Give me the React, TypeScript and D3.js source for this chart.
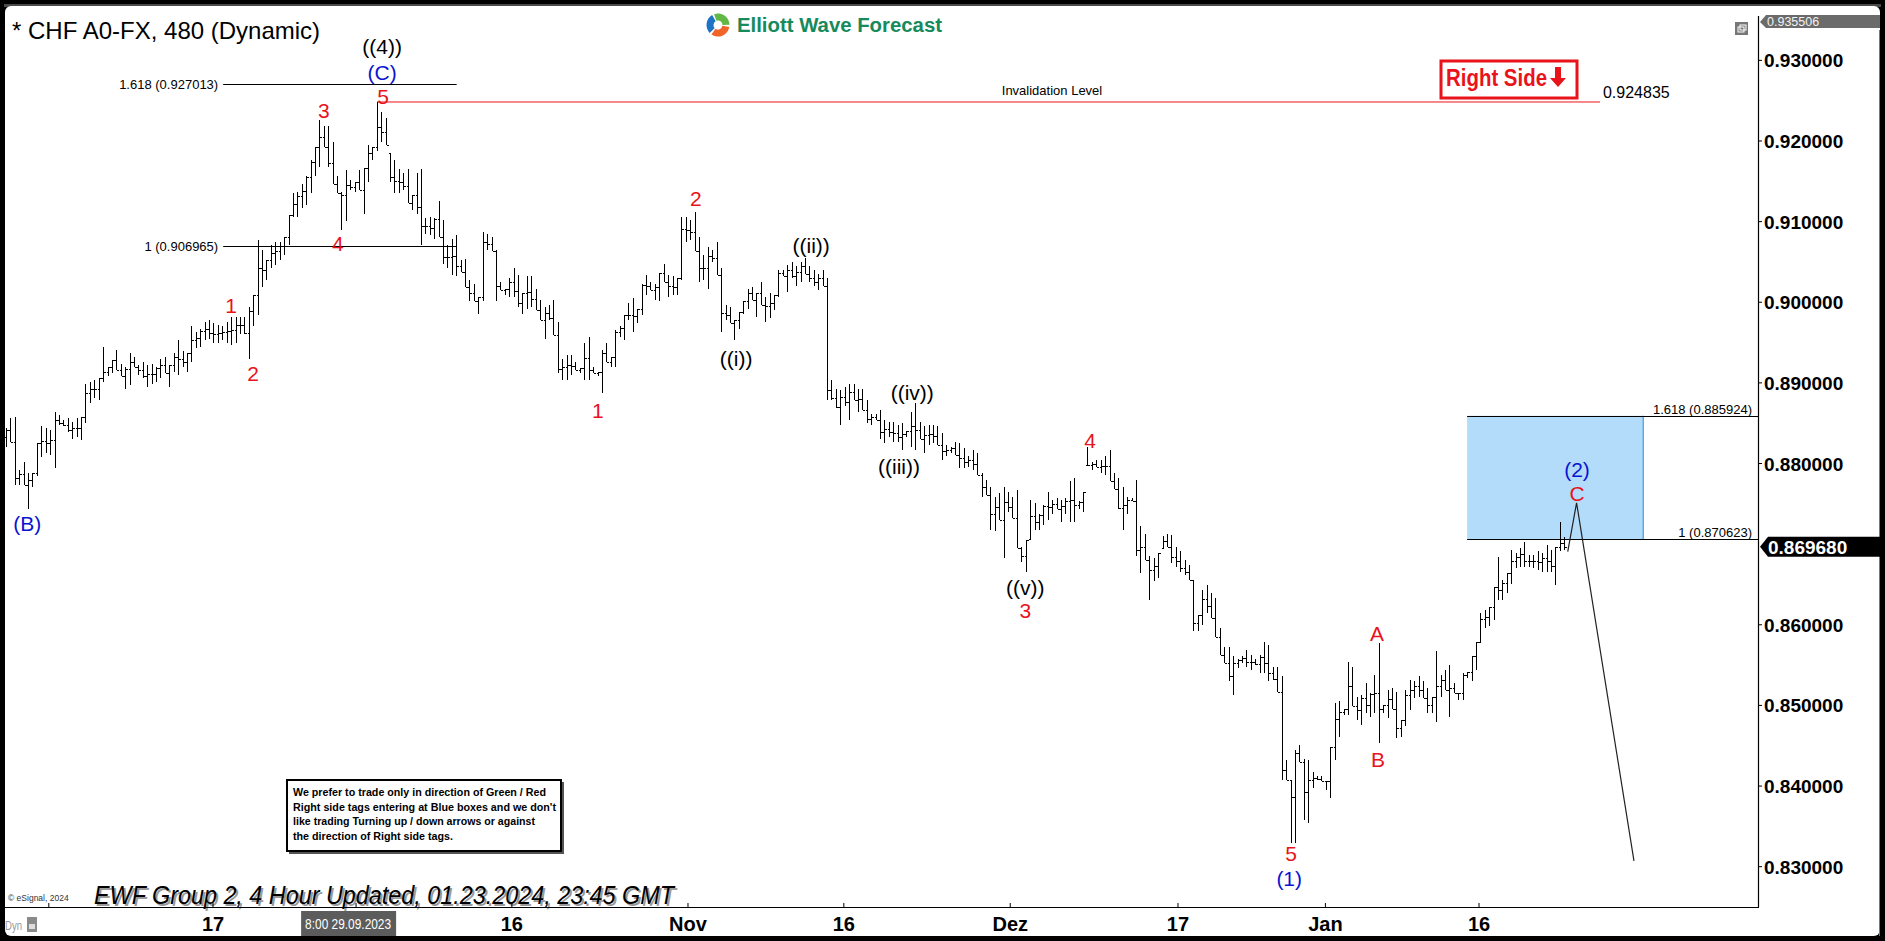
import React from 'react';
import * as d3 from 'd3';

// ---- Price bars (8h bars) ----
const barHighs = [
  .8844,.8856,.8858,.8792,.8802,.8788,.8788,.8825,.8846,.8844,
  .8841,.8864,.8860,.8854,.8856,.8852,.8856,.8858,.8899,.8901,
  .8903,.8906,.8945,.8920,.8928,.8941,.8924,.8920,.8937,.8932,
  .8922,.8926,.8922,.8924,.8920,.8930,.8932,.8922,.8937,.8953,
  .8939,.8937,.8970,.8963,.8967,.8976,.8978,.8974,.8972,.8970,
  .8976,.8982,.8982,.8982,.8982,.8994,.9009,.9077,.9065,.9052,
  .9071,.9075,.9075,.9081,.9108,.9135,.9137,.9147,.9156,.9176,
  .9193,.9226,.9218,.9218,.9199,.9156,.9137,.9164,.9151,.9149,
  .9164,.9166,.9195,.9193,.9248,.9236,.9228,.9185,.9176,.9165,
  .9160,.9165,.9133,.9160,.9165,.9104,.9106,.9104,.9125,.9102,
  .9071,.9079,.9083,.9052,.9054,.9028,.9023,.9007,.9087,.9085,
  .9081,.9065,.9025,.9017,.9030,.9042,.9034,.9011,.9032,.9032,
  .9017,.9003,.8994,.8996,.9003,.8976,.8930,.8935,.8935,.8926,
  .8918,.8949,.8957,.8920,.8914,.8941,.8949,.8932,.8966,.8970,
  .8984,.8999,.9005,.8992,.9023,.9034,.9025,.9023,.9036,.9048,
  .9034,.9032,.9030,.9106,.9106,.9102,.9112,.9081,.9058,.9069,
  .9065,.9075,.9042,.8996,.8994,.8978,.8988,.9001,.9017,.9019,
  .9011,.9025,.9007,.9011,.9009,.9040,.9040,.9046,.9050,.9045,
  .9050,.9055,.9045,.9040,.9035,.9040,
  .9030,.8904,.8893,.8891,
  .8895,.8899,.8899,.8893,.8893,.8879,.8862,.8862,.8866,.8854,
  .8852,.8852,.8848,.8850,.8840,.8864,.8875,.8852,.8846,.8848,
  .8848,.8846,.8838,.8823,.8821,.8827,.8825,.8819,.8809,.8817,
  .8813,.8788,.8780,.8771,.8759,.8763,.8771,.8765,.8759,.8767,
  .8697,.8705,.8755,.8751,.8738,.8749,.8765,.8755,.8757,.8755,
  .8757,.8778,.8782,.8753,.8765,.8821,.8802,.8804,.8804,.8809,
  .8817,.8788,.8782,.8771,.8759,.8757,.8780,.8722,.8712,.8685,
  .8683,.8689,.8710,.8712,.8711,.8697,
  .8691,.8680,.8674,.8656,
  .8612,.8643,.8649,.8639,.8633,.8596,.8573,.8573,.8561,.8558,
  .8561,.8569,.8563,.8558,.8563,.8579,.8575,.8548,.8548,.8536,
  .8432,.8408,.8445,.8451,.8434,.8432,.8418,.8412,.8412,.8406,
  .8449,.8503,.8505,.8496,.8554,.8548,.8511,.8513,.8528,.8515,
  .8538,.8577,.8500,.8519,.8521,.8517,.8482,.8519,.8532,.8530,
  .8536,.8530,.8521,.8511,.8567,.8538,.8544,.8550,.8528,.8515,
  .8540,.8542,.8561,.8579,.8614,.8618,.8622,.8647,.8684,.8656,
  .8664,.8693,.8689,.8695,.8703,.8687,.8687,.8691,.8689,.8699,
  .8693,.8697,.8728,.8709,
];

const barLows = [
  .8821,.8827,.8773,.8773,.8773,.8744,.8771,.8784,.8808,.8813,
  .8810,.8794,.8848,.8846,.8839,.8831,.8833,.8829,.8850,.8875,
  .8881,.8879,.8901,.8908,.8912,.8916,.8908,.8893,.8897,.8920,
  .8910,.8906,.8895,.8899,.8901,.8906,.8912,.8895,.8914,.8910,
  .8920,.8914,.8926,.8943,.8945,.8953,.8955,.8949,.8949,.8953,
  .8949,.8947,.8949,.8961,.8961,.8930,.8970,.8984,.9019,.9027,
  .9042,.9046,.9052,.9058,.9071,.9106,.9106,.9117,.9121,.9135,
  .9156,.9168,.9193,.9168,.9147,.9135,.9089,.9101,.9139,.9137,
  .9139,.9110,.9149,.9176,.9187,.9199,.9195,.9149,.9135,.9135,
  .9139,.9123,.9114,.9110,.9071,.9085,.9083,.9079,.9081,.9048,
  .9042,.9034,.9032,.9038,.9019,.9001,.9001,.8986,.9001,.9065,
  .9063,.9001,.9015,.9009,.9007,.9007,.8994,.8986,.8992,.8994,
  .8990,.8978,.8955,.8978,.8959,.8912,.8904,.8904,.8910,.8916,
  .8912,.8904,.8904,.8912,.8908,.8887,.8926,.8920,.8920,.8957,
  .8953,.8978,.8963,.8974,.8984,.9009,.9015,.9003,.9001,.9025,
  .9007,.9009,.9009,.9027,.9075,.9077,.9063,.9025,.9027,.9017,
  .9050,.9034,.8963,.8978,.8974,.8953,.8967,.8986,.8992,.9003,
  .8982,.8997,.8976,.8980,.8990,.9007,.9032,.9013,.9030,.9020,
  .9025,.9035,.9025,.9020,.9015,.9020,
  .8879,.8879,.8869,.8848,
  .8871,.8854,.8879,.8864,.8866,.8850,.8848,.8854,.8831,.8825,
  .8833,.8827,.8827,.8817,.8833,.8821,.8817,.8831,.8813,.8823,
  .8825,.8823,.8804,.8809,.8813,.8811,.8794,.8794,.8796,.8792,
  .8786,.8759,.8761,.8718,.8716,.8730,.8683,.8740,.8732,.8695,
  .8678,.8666,.8707,.8718,.8718,.8724,.8730,.8738,.8743,.8728,
  .8738,.8728,.8728,.8743,.8740,.8798,.8792,.8796,.8788,.8786,
  .8778,.8769,.8743,.8718,.8738,.8753,.8685,.8664,.8680,.8631,
  .8654,.8658,.8695,.8697,.8677,.8672,
  .8666,.8662,.8656,.8592,
  .8592,.8600,.8614,.8608,.8585,.8563,.8552,.8530,.8513,.8546,
  .8552,.8548,.8544,.8550,.8540,.8540,.8530,.8532,.8517,.8408,
  .8408,.8329,.8329,.8430,.8358,.8354,.8397,.8408,.8406,.8395,
  .8385,.8432,.8461,.8488,.8488,.8499,.8482,.8476,.8490,.8486,
  .8490,.8453,.8490,.8484,.8496,.8459,.8461,.8474,.8494,.8509,
  .8511,.8509,.8490,.8490,.8480,.8511,.8519,.8486,.8515,.8507,
  .8507,.8534,.8530,.8544,.8577,.8596,.8598,.8606,.8631,.8631,
  .8639,.8651,.8670,.8672,.8672,.8672,.8670,.8668,.8666,.8666,
  .8666,.8649,.8691,.8693,
];

// ---- Axes ----
const priceTicks = [0.93, 0.92, 0.91, 0.90, 0.89, 0.88, 0.86, 0.85, 0.84, 0.83];
const lastPrice = 0.86968;
const topPrice = 0.935506;
const dateLabels = ['17', '16', 'Nov', '16', 'Dez', '17', 'Jan', '16'];
const dateIndex = [46.9, 114.6, 154.5, 189.8, 227.5, 265.5, 298.9, 333.7];
const extraTickIndex = [9.7, 79.3];
const cursorLabel = '8:00 29.09.2023';
const cursorIndex = 77.5;

// ---- Fibonacci levels ----
const fibLabels = ['1.618 (0.927013)', '1 (0.906965)', '1.618 (0.885924)', '1 (0.870623)'];
const fibValues = [0.927013, 0.906965, 0.885924, 0.870623];
const fibFrom = [49.2, 49.2, 331.0, 331.0];
const fibTo = [102.1, 102.1, 396.9, 396.9];
const fibSide = ['left', 'left', 'right', 'right'];
const boxFrom = 331.0;
const boxTo = 370.9;
const boxTop = 0.885924;
const boxBottom = 0.870623;

const invalidation = 0.924835;
const invalidFrom = 84.05;
const invalidTo = 361.1;

// ---- Projection path ----
const projIndex = [353.8, 355.8, 368.8];
const projPrice = [0.86907, 0.87513, 0.83072];

// ---- Wave labels ----
const waveText = ['((4))', '(C)', '5', '3', '4', '1', '2', '(B)', '1', '2', '((i))', '((ii))', '((iv))', '((iii))', '((v))', '3', '4', '5', '(1)', 'A', 'B', '(2)', 'C'];
const waveIndex = [85.2, 85.2, 85.4, 72.0, 75.2, 51.0, 56.0, 4.8, 134.1, 156.3, 165.4, 182.4, 205.3, 202.3, 230.9, 230.9, 245.6, 291.1, 290.7, 310.6, 310.8, 355.9, 355.9];
const wavePrice = [0.93170, 0.92854, 0.92556, 0.92383, 0.90734, 0.89966, 0.89123, 0.87263, 0.88664, 0.91292, 0.89308, 0.90709, 0.88887, 0.87969, 0.86457, 0.86184, 0.88292, 0.83160, 0.82860, 0.85898, 0.84336, 0.87925, 0.87630];
const waveKind = ['k', 'b', 'r', 'r', 'r', 'r', 'r', 'b', 'r', 'r', 'k', 'k', 'k', 'k', 'k', 'r', 'r', 'r', 'b', 'r', 'r', 'b', 'r'];

const noteLines = [
  'We prefer to trade only in direction of Green / Red',
  "Right side tags entering at Blue boxes and we don't",
  'like trading Turning up / down arrows or against',
  'the direction of Right side tags.',
];
const noteWidths = [253, 263, 242, 160];

const W = 1885;
const H = 941;
const SANS = "'Liberation Sans', Arial, sans-serif";
const NARROW = "'Liberation Sans Narrow', 'Arial Narrow', 'Liberation Sans', sans-serif";
const kindColor: Record<string, string> = { k: '#000000', b: '#0a14d0', r: '#e8131b' };

export default function App() {
  const x = d3.scaleLinear().domain([0, 396.9]).range([6, 1758]);
  const y = d3.scaleLinear().domain([0.825, 0.9355]).range([907, 16]);
  const fmt = d3.format('.6f');

  const n = barHighs.length;
  const closes = barHighs.map((h, i) => {
    const l = barLows[i];
    if (i === n - 1) return lastPrice;
    const nm = (barHighs[i + 1] + barLows[i + 1]) / 2;
    return Math.max(l, Math.min(h, nm));
  });
  const opens = barHighs.map((h, i) => (i === 0 ? (h + barLows[0]) / 2 : Math.max(barLows[i], Math.min(h, closes[i - 1]))));

  const proj = d3.line<number>().x((d, i) => x(projIndex[i])).y((d) => y(d))(projPrice) || '';

  const arc = d3.arc();
  const logoArcs = [
    { s: -0.35, e: 1.55, c: '#62b846' },
    { s: 1.75, e: 3.75, c: '#f0642a' },
    { s: 3.95, e: 5.75, c: '#1f73c4' },
  ];

  const yl = y(lastPrice);

  return (
    <svg width={W} height={H} style={{ position: 'absolute', left: 0, top: 0, display: 'block' }} fontFamily={SANS}>
      <rect x={0} y={0} width={W} height={H} fill="#000" />
      <rect x={4} y={4} width={1877} height={3} fill="#4a4a4a" />
      <rect x={5} y={6} width={1875} height={930} rx={6} fill="#fff" />
      <line x1={1879.5} y1={30} x2={1879.5} y2={936} stroke="#777" />

      {/* title & logo */}
      <text x={12} y={38.5} fontSize={24} fill="#000">* CHF A0-FX, 480 (Dynamic)</text>
      <g transform="translate(718,25)">
        {logoArcs.map((a, i) => (
          <path key={i} d={arc({ innerRadius: 4.5, outerRadius: 11.5, startAngle: a.s, endAngle: a.e }) || ''} fill={a.c} />
        ))}
      </g>
      <text x={737} y={32} fontSize={20} fontWeight="bold" fill="#178a5c" textLength={205} lengthAdjust="spacingAndGlyphs">Elliott Wave Forecast</text>

      {/* restore icon */}
      <rect x={1735} y={22} width={13} height={13} fill="#777" />
      <rect x={1738} y={27} width={6} height={5} fill="none" stroke="#fff" strokeWidth={1} />
      <rect x={1740} y={25} width={6} height={5} fill="none" stroke="#fff" strokeWidth={1} />

      {/* blue target box */}
      <rect x={x(boxFrom)} y={y(boxTop)} width={x(boxTo) - x(boxFrom)} height={y(boxBottom) - y(boxTop)} fill="#b3dcfa" />
      <line x1={x(boxTo)} y1={y(boxTop)} x2={x(boxTo)} y2={y(boxBottom)} stroke="#3d9be6" strokeWidth={1.2} />

      {/* fib lines */}
      {fibValues.map((v, i) => {
        const yy = Math.round(y(v)) + 0.5;
        return (
          <g key={i}>
            <line x1={x(fibFrom[i])} x2={x(fibTo[i])} y1={yy} y2={yy} stroke="#000" strokeWidth={1} />
            {fibSide[i] === 'left' ? (
              <text x={x(fibFrom[i]) - 5} y={yy + 4.5} fontSize={13} textAnchor="end" fill="#000">{fibLabels[i]}</text>
            ) : (
              <text x={1752} y={yy - 3} fontSize={13} textAnchor="end" fill="#000">{fibLabels[i]}</text>
            )}
          </g>
        );
      })}

      {/* invalidation */}
      <line x1={x(invalidFrom)} x2={x(invalidTo)} y1={y(invalidation)} y2={y(invalidation)} stroke="#e8131b" strokeWidth={1} />
      <text x={x(invalidTo) + 3} y={y(invalidation) - 4} fontSize={16} fill="#000">{fmt(invalidation)}</text>
      <text x={1052} y={95} fontSize={13} textAnchor="middle" fill="#000">Invalidation Level</text>

      {/* right side tag */}
      <rect x={1441} y={61} width={136} height={37} fill="#fff" stroke="#e8131b" strokeWidth={3} />
      <text x={1446} y={86} fontSize={23} fontWeight="bold" fill="#e8131b" textLength={101} lengthAdjust="spacingAndGlyphs" fontFamily={NARROW}>Right Side</text>
      <path d="M1555,67 h6 v11 h5 l-8,9 l-8,-9 h5 z" fill="#e8131b" />

      {/* bars */}
      <g stroke="#000" strokeWidth={1} shapeRendering="crispEdges">
        {barHighs.map((h, i) => {
          const xi = Math.round(x(i)) + 0.5;
          const yh = Math.round(y(h));
          const ylo = Math.max(Math.round(y(barLows[i])), yh + 2);
          const yo = Math.round(y(opens[i])) + 0.5;
          const yc = Math.round(y(closes[i])) + 0.5;
          return (
            <g key={i}>
              <line x1={xi} x2={xi} y1={yh} y2={ylo} />
              <line x1={xi - 2} x2={xi} y1={yo} y2={yo} />
              <line x1={xi} x2={xi + 2} y1={yc} y2={yc} />
            </g>
          );
        })}
      </g>

      {/* projection */}
      <path d={proj} fill="none" stroke="#222" strokeWidth={1.2} />

      {/* wave labels */}
      {waveText.map((t, i) => (
        <text key={i} x={x(waveIndex[i])} y={y(wavePrice[i])} dy="0.36em" fontSize={21} textAnchor="middle" fill={kindColor[waveKind[i]]}>{t}</text>
      ))}

      {/* note box */}
      <rect x={289} y={782} width={275} height={72} fill="#555" />
      <rect x={287} y={780} width={274} height={71} fill="#fff" stroke="#000" strokeWidth={2} />
      {noteLines.map((t, i) => (
        <text key={i} x={293} y={796 + i * 14.6} fontSize={10.5} fontWeight="bold" fill="#000" textLength={noteWidths[i]} lengthAdjust="spacingAndGlyphs">{t}</text>
      ))}

      {/* footer text */}
      <text x={8} y={901} fontSize={8.5} fill="#333">© eSignal, 2024</text>
      <text x={96} y={906} fontSize={25} fontStyle="italic" fill="#9a9a9a" textLength={580} lengthAdjust="spacingAndGlyphs" fontFamily={NARROW}>EWF Group 2, 4 Hour Updated, 01.23.2024, 23:45 GMT</text>
      <text x={94} y={904} fontSize={25} fontStyle="italic" fill="#000" textLength={580} lengthAdjust="spacingAndGlyphs" fontFamily={NARROW}>EWF Group 2, 4 Hour Updated, 01.23.2024, 23:45 GMT</text>

      {/* axes lines */}
      <line x1={1758.5} x2={1758.5} y1={16} y2={907} stroke="#000" strokeWidth={1.2} />
      <line x1={5} x2={1759} y1={907.5} y2={907.5} stroke="#000" strokeWidth={1.2} />

      {/* price axis */}
      {priceTicks.map((p) => (
        <g key={p}>
          <line x1={1758} x2={1762} y1={y(p)} y2={y(p)} stroke="#000" />
          <text x={1764} y={y(p) + 7} fontSize={19} fontWeight="bold" fill="#000">{fmt(p)}</text>
        </g>
      ))}
      <path d={`M1760,${y(topPrice) + 6} L1766,15 H1880 V28 H1766 Z`} fill="#6b6b6b" />
      <text x={1767} y={25.5} fontSize={12.5} fill="#f2f2f2">{fmt(topPrice)}</text>
      <path d={`M1760,${yl} L1768,${yl - 10} H1880 V${yl + 10} H1768 Z`} fill="#000" />
      <text x={1768} y={yl + 7} fontSize={19} fontWeight="bold" fill="#fff">{fmt(lastPrice)}</text>

      {/* date axis */}
      {dateIndex.concat(extraTickIndex).map((d, i) => (
        <line key={'t' + i} x1={x(d)} x2={x(d)} y1={903} y2={908} stroke="#000" />
      ))}
      {dateLabels.map((l, i) => (
        <text key={i} x={x(dateIndex[i])} y={931} fontSize={20} fontWeight="bold" textAnchor="middle" fill="#000" fontFamily={NARROW}>{l}</text>
      ))}
      <rect x={x(cursorIndex) - 47} y={911} width={95} height={25} fill="#5c5c5c" />
      <text x={x(cursorIndex) - 43} y={929} fontSize={15} fill="#fff" fontFamily={NARROW} textLength={86} lengthAdjust="spacingAndGlyphs">{cursorLabel}</text>
      <text x={5} y={930} fontSize={12} fill="#9a9a9a" fontFamily={NARROW} textLength={17} lengthAdjust="spacingAndGlyphs">Dyn</text>
      <rect x={27} y={917} width={10} height={15} fill="#8a8a8a" />
      <rect x={29} y={924} width={6} height={5} fill="#ddd" />
    </svg>
  );
}
